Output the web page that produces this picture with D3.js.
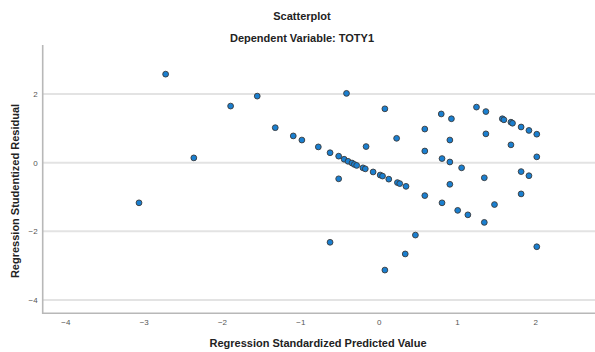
<!DOCTYPE html>
<html>
<head>
<meta charset="utf-8">
<script src="https://cdn.jsdelivr.net/npm/d3@7"></script>
<style>
  body { margin: 0; background: #fff; }
  svg { display: block; font-family: "Liberation Sans", Arial, sans-serif; }
  .tick text { fill: #555; font-size: 8px; }
  .domain { display: none; }
</style>
</head>
<body>
<div id="chart"></div>
<script>
// Regression standardized predicted value (x) and studentized residual (y)
const predicted = [
  -3.06, -2.36, -2.72, -1.89, -1.55, -0.41, 0.08, -1.32, -1.09, -0.98,
  -0.77, -0.16, 0.23, 0.59, 0.59, -0.62, -0.51, -0.44, -0.39, -0.34,
  -0.31, -0.28, -0.20, -0.17, -0.07, 0.02, 0.05, 0.13, 0.24, 0.27,
  0.35, -0.51, 0.59, 0.80, 0.93, 1.25, 1.37, 1.58, 1.60, 1.69,
  1.71, 1.82, 1.92, 2.02, 0.91, 1.37, 1.69, 0.81, 0.91, 1.06,
  2.02, 1.82, 1.92, 1.35, 0.91, 0.81, 1.48, 1.82, 1.01, 1.14,
  1.35, -0.62, 0.47, 0.34, 0.08, 2.02
];
const residual = [
  -1.17, 0.14, 2.58, 1.65, 1.94, 2.02, 1.57, 1.02, 0.78, 0.66,
  0.46, 0.47, 0.71, 0.98, 0.34, 0.29, 0.19, 0.10, 0.04, -0.01,
  -0.05, -0.08, -0.15, -0.18, -0.27, -0.36, -0.39, -0.48, -0.58, -0.61,
  -0.69, -0.47, -0.96, 1.42, 1.28, 1.62, 1.49, 1.28, 1.25, 1.18,
  1.15, 1.04, 0.94, 0.83, 0.66, 0.84, 0.52, 0.12, 0.02, -0.15,
  0.17, -0.26, -0.38, -0.44, -0.63, -1.17, -1.22, -0.91, -1.39, -1.52,
  -1.74, -2.32, -2.11, -2.66, -3.13, -2.45
];
const xTicks = [-4, -3, -2, -1, 0, 1, 2];
const yTicks = [-4, -2, 0, 2];

const width = 595;
const height = 352;
const plotLeft = 42.7;
const plotRight = 595.5;
const plotTop = 45;
const plotBottom = 313.3;

const svg = d3.select('#chart')
  .append('svg')
  .attr('width', width)
  .attr('height', height);

const x = d3.scaleLinear()
  .domain([-4.29, 2.77])
  .range([plotLeft, plotRight]);
const y = d3.scaleLinear()
  .domain([-4.39, 3.43])
  .range([plotBottom, plotTop]);

// horizontal grid
svg.append('g')
  .selectAll('line')
  .data(yTicks)
  .enter()
  .append('line')
  .attr('x1', plotLeft)
  .attr('x2', plotRight)
  .attr('y1', (d) => y(d))
  .attr('y2', (d) => y(d))
  .attr('stroke', '#e3e3e3')
  .attr('stroke-width', 2);

// axis lines
svg.append('path')
  .attr('d', `M${plotLeft},${plotTop}V${plotBottom}H${plotRight}`)
  .attr('fill', 'none')
  .attr('stroke', '#b8b8b8')
  .attr('stroke-width', 1.6);

svg.append('g')
  .attr('transform', `translate(0, ${plotBottom + 4})`)
  .call(d3.axisBottom(x).tickValues(xTicks).tickSize(0).tickPadding(2).tickFormat(d3.format('d')))
  .selectAll('text').attr('font-family', null);

svg.append('g')
  .attr('transform', `translate(${plotLeft - 4}, 0)`)
  .call(d3.axisLeft(y).tickValues(yTicks).tickSize(0).tickPadding(1).tickFormat(d3.format('d')))
  .selectAll('text').attr('font-family', null);

// points
const points = predicted.map((d, i) => ({x: d, y: residual[i]}));
svg.append('g')
  .selectAll('circle')
  .data(points)
  .enter()
  .append('circle')
  .attr('cx', (d) => x(d.x))
  .attr('cy', (d) => y(d.y))
  .attr('r', 2.9)
  .attr('fill', '#1a7fd0')
  .attr('stroke', '#3a3a3a')
  .attr('stroke-width', 0.9);

// titles
svg.append('text')
  .attr('x', 302)
  .attr('y', 20)
  .attr('text-anchor', 'middle')
  .attr('font-weight', 'bold')
  .attr('font-size', 11)
  .attr('fill', '#222')
  .text('Scatterplot');

svg.append('text')
  .attr('x', 302)
  .attr('y', 42)
  .attr('text-anchor', 'middle')
  .attr('font-weight', 'bold')
  .attr('font-size', 11)
  .attr('fill', '#222')
  .text('Dependent Variable: TOTY1');

svg.append('text')
  .attr('x', 318)
  .attr('y', 347)
  .attr('text-anchor', 'middle')
  .attr('font-weight', 'bold')
  .attr('font-size', 11)
  .attr('fill', '#222')
  .text('Regression Standardized Predicted Value');

svg.append('text')
  .attr('transform', 'translate(19, 191) rotate(-90)')
  .attr('text-anchor', 'middle')
  .attr('font-weight', 'bold')
  .attr('font-size', 11)
  .attr('fill', '#222')
  .text('Regression Studentized Residual');
</script>
</body>
</html>
